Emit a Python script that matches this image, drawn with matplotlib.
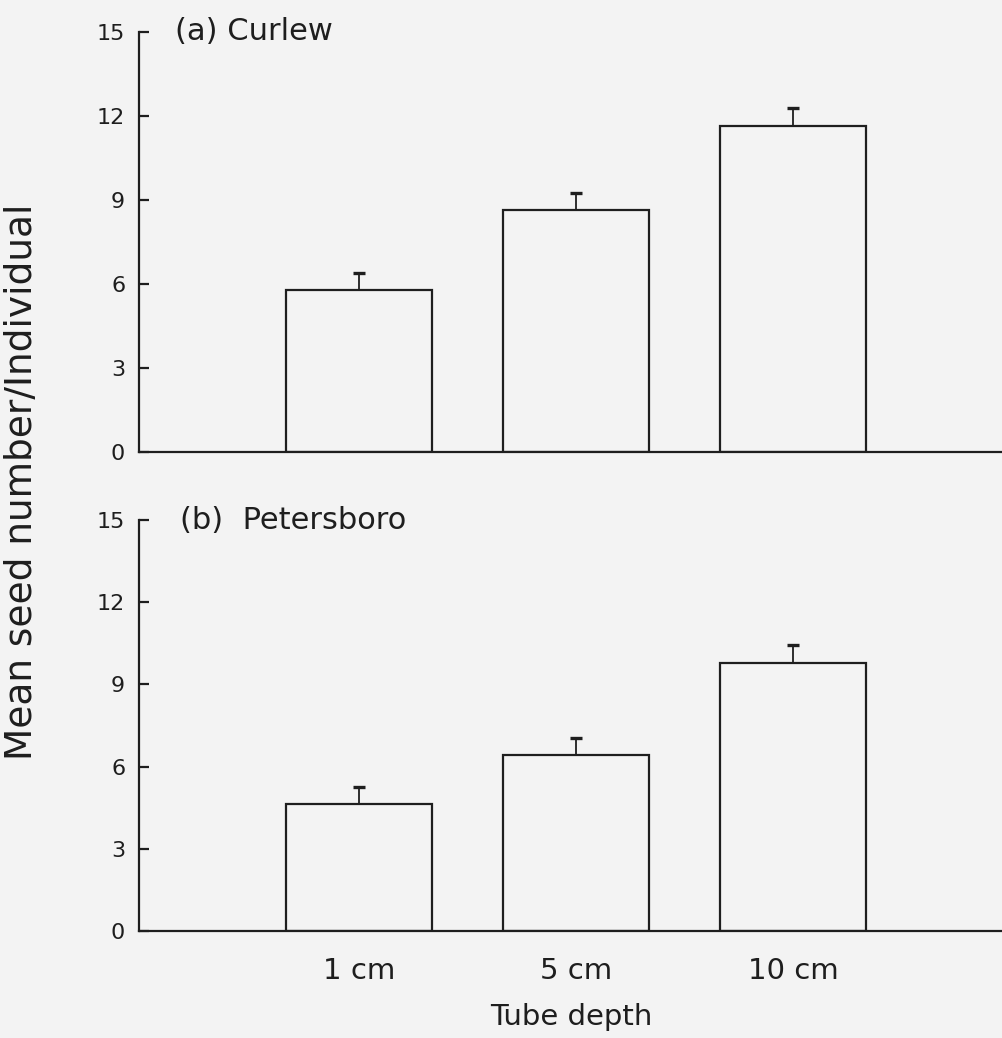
import matplotlib

matplotlib.use("Agg")
import matplotlib.pyplot as plt
import numpy as np

# Values
depths = ["1 cm", "5 cm", "10 cm"]
curlew_mean = [5.8, 8.65, 11.65]
curlew_se = [0.6, 0.6, 0.65]
peters_mean = [4.62, 6.43, 9.78]
peters_se = [0.62, 0.62, 0.65]
yticks = [0, 3, 6, 9, 12, 15]

BG = "#f3f3f3"
INK = "#1e1e1e"

plt.rcParams["font.family"] = "DejaVu Sans"

fig = plt.figure(figsize=(10.03, 10.38), dpi=100, facecolor=BG)
ax_a = fig.add_axes([0.1386, 0.5645, 0.8614, 0.4047])
ax_b = fig.add_axes([0.1386, 0.1031, 0.8614, 0.3959])

x = np.arange(len(depths))


def draw_panel(ax, means, errs, label, label_x):
    ax.set_facecolor(BG)
    ax.bar(x, means, width=0.673, color=BG, edgecolor=INK, linewidth=1.6, zorder=2)
    # upper error bar only, no cap at the bar top
    _, caps, _ = ax.errorbar(x, means, yerr=[np.zeros(len(errs)), errs], fmt="none",
                             ecolor=INK, elinewidth=1.3, capsize=4.5, capthick=2.4,
                             zorder=3)
    caps[0].set_visible(False)
    ax.set_xlim(-1.014, 2.968)
    ax.set_ylim(0, 15)
    ax.set_yticks(yticks)
    ax.tick_params(axis="y", direction="in", length=7, width=1.6, color=INK,
                   labelsize=16, labelcolor=INK, pad=10)
    ax.tick_params(axis="x", length=0)
    for side in ("top", "right"):
        ax.spines[side].set_visible(False)
    for side in ("left", "bottom"):
        ax.spines[side].set_linewidth(1.6)
        ax.spines[side].set_color(INK)
    ax.text(label_x, 1.0, label, transform=ax.transAxes, ha="left", va="center",
            fontsize=22, color=INK)


draw_panel(ax_a, curlew_mean, curlew_se, "(a) Curlew", 0.0417)
draw_panel(ax_b, peters_mean, peters_se, "(b)  Petersboro", 0.0475)

ax_a.set_xticks([])
ax_b.set_xticks(x)
ax_b.set_xticklabels(depths, fontsize=21, color=INK)
ax_b.tick_params(axis="x", pad=19)
ax_b.set_xlabel("Tube depth", fontsize=21, color=INK, labelpad=13)

fig.text(0.022, 1 - 482 / 1038, "Mean seed number/Individual", rotation=90,
         ha="center", va="center", fontsize=27, color=INK)

fig.savefig("out.png", dpi=100, facecolor=BG)
